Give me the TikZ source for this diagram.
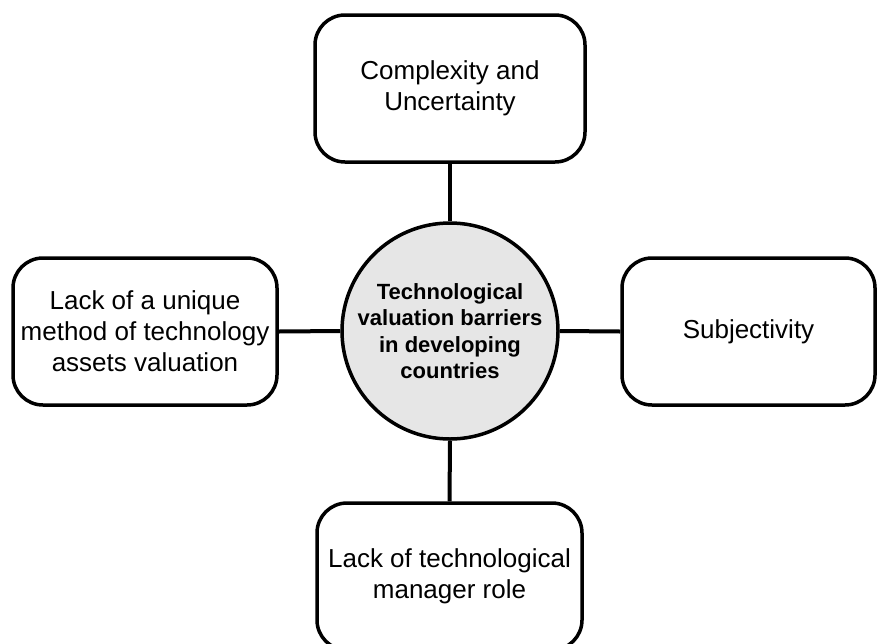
\documentclass[tikz,border=0pt]{standalone}
\usepackage{fontspec}
\setmainfont{Liberation Sans}
\definecolor{hubfill}{RGB}{230,230,230}
\begin{document}
\begin{tikzpicture}[x=1pt,y=-1pt,
  box/.style={draw=black, line width=3.5pt, rounded corners=30pt, fill=white,
    align=center, inner sep=0pt, font=\fontsize{26}{31}\selectfont},
  hub/.style={circle, draw=black, line width=3.5pt, fill=hubfill, minimum size=216pt,
    align=center, inner sep=0pt, font=\fontsize{22}{26.5}\selectfont\bfseries},
  link/.style={line width=4pt}]
\useasboundingbox (0,0) rectangle (877,643);
\node[hub] (c) at (450,331) {Technological\\valuation barriers\\in developing\\countries};
\node[box, minimum width=270pt, minimum height=147pt] (top) at (450,88.5) {Complexity and\\Uncertainty};
\node[box, minimum width=264pt, minimum height=147pt] (left) at (145,331.5) {Lack of a unique\\method of technology\\assets valuation};
\node[box, minimum width=253pt, minimum height=147pt] (right) at (748.5,331.5) {Subjectivity};
\node[box, minimum width=265pt, minimum height=147pt] (bottom) at (449.5,576.5) {Lack of technological\\manager role};
\draw[link] (top.south) -- (c.north);
\draw[link] (left.east) -- (c.west);
\draw[link] (right.west) -- (c.east);
\draw[link] (bottom.north) -- (c.south);
\end{tikzpicture}
\end{document}
